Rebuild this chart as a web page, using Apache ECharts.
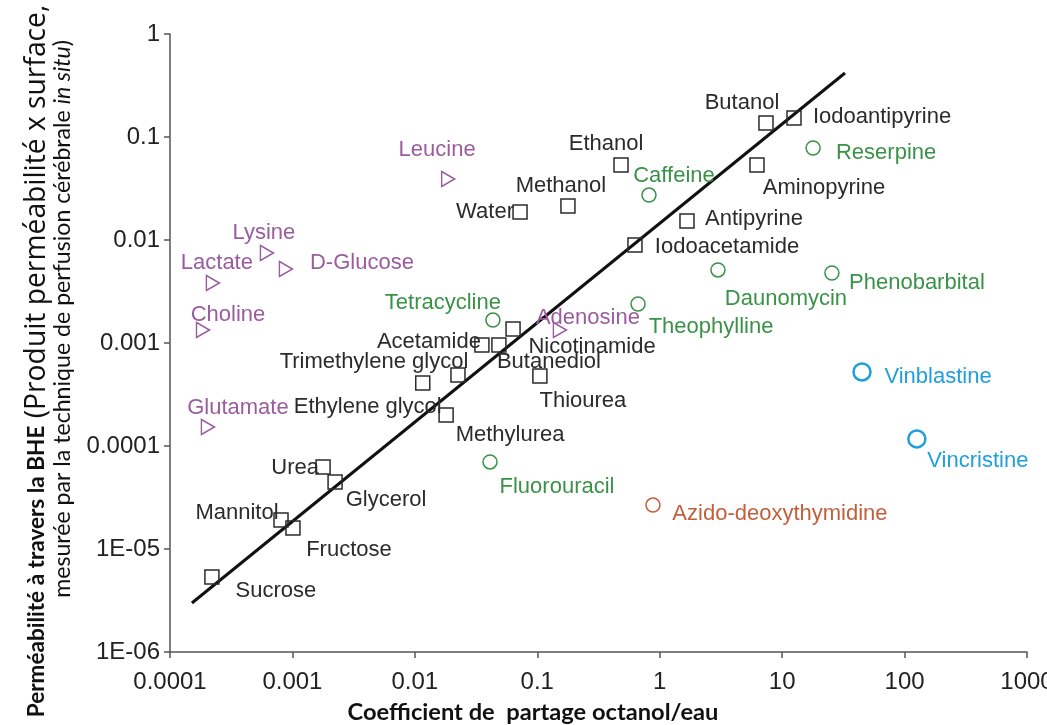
<!DOCTYPE html>
<html>
<head>
<meta charset="utf-8">
<script src="https://cdn.jsdelivr.net/npm/echarts@6/dist/echarts.min.js"></script>
<style>html,body{margin:0;padding:0;background:#fff;}#c{width:1047px;height:725px;}</style>
</head>
<body>
<div id="c"></div>
<script>
// ---- tick labels ----
const xTickLabels = ['0.0001','0.001','0.01','0.1','1','10','100','1000'];
const yTickLabels = ['1E-06','1E-05','0.0001','0.001','0.01','0.1','1'];

// ---- black squares ----
const squareNames = ['Sucrose','Mannitol','Fructose','Urea','Glycerol','Ethylene glycol','Trimethylene glycol','Methylurea','Acetamide','Butanediol','Nicotinamide','Thiourea','Water','Methanol','Ethanol','Iodoacetamide','Antipyrine','Aminopyrine','Butanol','Iodoantipyrine'];
const squareX = [2.2e-4, 8.07e-4, 1.01e-3, 1.78e-3, 2.23e-3, 0.0116, 0.0225, 0.018, 0.0353, 0.0486, 0.0634, 0.105, 0.0723, 0.178, 0.483, 0.628, 1.67, 6.23, 7.38, 12.5];
const squareY = [5.35e-6, 1.91e-5, 1.6e-5, 6.25e-5, 4.47e-5, 4.09e-4, 4.89e-4, 2.0e-4, 9.57e-4, 9.57e-4, 1.37e-3, 4.78e-4, 0.0187, 0.0214, 0.0535, 0.00894, 0.0153, 0.0535, 0.137, 0.153];

// ---- green circles ----
const greenNames = ['Caffeine','Reserpine','Daunomycin','Phenobarbital','Theophylline','Tetracycline','Fluorouracil'];
const greenX = [0.817, 17.9, 2.99, 25.5, 0.665, 0.0434, 0.0411];
const greenY = [0.0273, 0.0782, 0.00512, 0.00478, 0.00239, 0.00167, 7.0e-5];

// ---- purple triangles ----
const purpleNames = ['Leucine','Lysine','D-Glucose','Lactate','Choline','Glutamate','Adenosine'];
const purpleX = [0.0187, 6.19e-4, 8.85e-4, 2.24e-4, 1.86e-4, 2.04e-4, 0.153];
const purpleY = [0.0391, 0.00748, 0.00523, 0.00383, 0.00134, 1.53e-4, 0.00134];

// ---- orange circle ----
const orangeNames = ['Azido-deoxythymidine'];
const orangeX = [0.881];
const orangeY = [2.67e-5];

// ---- blue circles ----
const blueNames = ['Vinblastine','Vincristine'];
const blueX = [44.9, 126];
const blueY = [5.23e-4, 1.17e-4];

// ---- regression line ----
const fitX = [1.51e-4, 32.6];
const fitY = [2.99e-6, 0.418];

// ---- axis titles ----
const xTitle = 'Coefficient de  partage octanol/eau';
const yTitleBold = 'Perméabilité à travers la BHE';
const yTitleRest = '(Produit perméabilité x surface,';
const yTitle2a = 'mesurée par la technique de perfusion cérébrale ';
const yTitle2b = 'in situ';
const yTitle2c = ')';

// ---- label placement (pixel offsets of label centre from its marker) ----
const labelOffsets = {
  'Sucrose':[64,14],'Mannitol':[-44,-7],'Fructose':[56,22],'Urea':[-28,1],'Glycerol':[51,18],
  'Ethylene glycol':[-55,24],'Trimethylene glycol':[-84,-13],'Methylurea':[64,20],'Acetamide':[-53,-3],
  'Butanediol':[50,17],'Nicotinamide':[79,18],'Thiourea':[43,25],'Water':[-35,0],'Methanol':[-7,-20],
  'Ethanol':[-15,-21],'Iodoacetamide':[92,2],'Antipyrine':[67,-2],'Aminopyrine':[67,23],'Butanol':[-24,-20],
  'Iodoantipyrine':[88,-1],'Caffeine':[25,-19],'Reserpine':[73,5],'Daunomycin':[68,29],'Phenobarbital':[85,10],
  'Theophylline':[73,23],'Tetracycline':[-50,-17],'Fluorouracil':[67,25],'Leucine':[-11,-29],'Lysine':[-3,-20],
  'D-Glucose':[76,-6],'Lactate':[4,-20],'Choline':[25,-15],'Glutamate':[30,-19],'Adenosine':[28,-12],
  'Azido-deoxythymidine':[127,9],'Vinblastine':[76,5],'Vincristine':[61,22]
};

// font size that makes a text span a target length (layout helper)
const mctx = document.createElement('canvas').getContext('2d');
function measure(parts, size) {
  let w = 0;
  parts.forEach(p => { mctx.font = (p.style || 'normal') + ' ' + (p.weight || 'normal') + ' ' + size + 'px ' + p.family; w += mctx.measureText(p.text).width; });
  return w;
}
function fit(parts, target) { return 20 * target / measure(parts, 20); }

const boldSize = fit([{ text: yTitleBold, family: 'Lato', weight: 'bold' }], 292);
const restSize = fit([{ text: ' ' + yTitleRest, family: "'Open Sans'" }], 421);
const line2Size = fit([{ text: yTitle2a, family: 'Lato' }, { text: yTitle2b, family: 'Lato', style: 'italic' }, { text: yTitle2c, family: 'Lato' }], 558);
const xTitleSize = fit([{ text: xTitle, family: 'Lato', weight: 'bold' }], 371);

const FONT = "'Liberation Sans', Arial, Helvetica, sans-serif";
function items(names, xs, ys) {
  return names.map((n, i) => ({
    name: n, value: [xs[i], ys[i]],
    label: { offset: labelOffsets[n] || [0, 0] }
  }));
}
function scatter(name, names, xs, ys, symbol, size, color, bw) {
  return {
    name: name, type: 'scatter', data: items(names, xs, ys),
    symbol: symbol, symbolSize: size,
    itemStyle: { color: 'rgba(0,0,0,0)', borderColor: color, borderWidth: bw, opacity: 1 },
    label: { show: true, formatter: '{b}', position: 'inside', align: 'center', verticalAlign: 'middle',
      color: color, fontSize: 22, fontFamily: FONT },
    emphasis: { disabled: true }, z: 3
  };
}

const chart = echarts.init(document.getElementById('c'), null, { renderer: 'canvas' });
chart.setOption({
  animation: false,
  backgroundColor: '#fff',
  grid: { left: 170, right: 20, top: 34, bottom: 73, containLabel: false, outerBoundsMode: 'none' },
  xAxis: {
    type: 'log', logBase: 10, min: 1e-4, max: 1000,
    axisLine: { lineStyle: { color: '#555', width: 1.5 } },
    axisTick: { show: true, length: 6, lineStyle: { color: '#555', width: 1.5 } },
    splitLine: { show: false }, minorTick: { show: false },
    axisLabel: { color: '#222', fontSize: 24, fontFamily: FONT, margin: 18, showMaxLabel: true, showMinLabel: true,
      formatter: v => xTickLabels[Math.round(Math.log10(v)) + 4] }
  },
  yAxis: {
    type: 'log', logBase: 10, min: 1e-6, max: 1,
    axisLine: { lineStyle: { color: '#555', width: 1.5 } },
    axisTick: { show: true, length: 6, lineStyle: { color: '#555', width: 1.5 } },
    splitLine: { show: false }, minorTick: { show: false },
    axisLabel: { color: '#222', fontSize: 24, fontFamily: FONT, margin: 10, showMaxLabel: true, showMinLabel: true,
      formatter: v => yTickLabels[Math.round(Math.log10(v)) + 6] }
  },
  series: [
    { type: 'line', data: fitX.map((x, i) => [x, fitY[i]]), showSymbol: false, symbol: 'none',
      lineStyle: { color: '#111', width: 3 }, emphasis: { disabled: true }, z: 2 },
    scatter('squares', squareNames, squareX, squareY, 'rect', 14, '#2b2b2b', 1.5),
    scatter('green', greenNames, greenX, greenY, 'circle', 14, '#3a9248', 1.5),
    scatter('purple', purpleNames, purpleX, purpleY, 'path://M0,0 L12,7 L0,14 Z', [13, 15], '#9a5c9e', 1.5),
    scatter('orange', orangeNames, orangeX, orangeY, 'circle', 14, '#c0603c', 1.5),
    scatter('blue', blueNames, blueX, blueY, 'circle', 17, '#1f9fdc', 2.5)
  ],
  graphic: [
    { type: 'text', x: 533, y: 712, z: 10,
      style: { text: xTitle, font: 'bold ' + xTitleSize.toFixed(2) + 'px Lato, sans-serif',
        fill: '#111', align: 'center', verticalAlign: 'middle' } },
    { type: 'text', x: 37, y: 361, rotation: Math.PI / 2, z: 10,
      style: { text: '{b|' + yTitleBold + '}{r| ' + yTitleRest + '}',
        align: 'center', verticalAlign: 'middle', fill: '#111',
        rich: { b: { fontFamily: 'Lato', fontWeight: 'bold', fontSize: boldSize, fill: '#111' },
                r: { fontFamily: "'Open Sans'", fontWeight: 'normal', fontSize: restSize, fill: '#111' } } } },
    { type: 'text', x: 63, y: 319, rotation: Math.PI / 2, z: 10,
      style: { text: '{r|' + yTitle2a + '}{i|' + yTitle2b + '}{r|' + yTitle2c + '}',
        align: 'center', verticalAlign: 'middle', fill: '#111',
        rich: { r: { fontFamily: 'Lato', fontSize: line2Size, fill: '#111' },
                i: { fontFamily: 'Lato', fontStyle: 'italic', fontSize: line2Size, fill: '#111' } } } }
  ]
});
</script>
</body>
</html>
